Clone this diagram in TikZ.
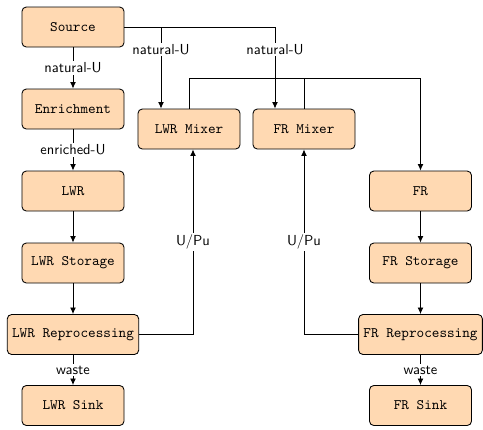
\documentclass[tikz,border=0pt]{standalone}
\usetikzlibrary{arrows.meta,calc}
\tikzset{
  box/.style={draw, fill=orange!30, rounded corners=3pt, minimum width=70.4pt, minimum height=27.6pt, font=\ttfamily},
  flow/.style={-{Latex[length=4.5pt,width=4pt]}},
  lbl/.style={fill=white, font=\sffamily, inner sep=1pt}
}
\begin{document}
\begin{tikzpicture}[x=0.69pt,y=-0.69pt,semithick]
  \useasboundingbox (0,0) rectangle (483,429);
  \def\lx{73}
  \def\rx{420.5}
  \def\bus{30}
  \node[box] (src) at (\lx,27) {Source};
  \node[box] (enr) at (\lx,109) {Enrichment};
  \node[box] (lwr) at (\lx,191) {LWR};
  \node[box] (lst) at (\lx,263) {LWR Storage};
  \node[box] (lrep) at (\lx,334.5) {LWR Reprocessing};
  \node[box] (lsink) at (\lx,405.5) {LWR Sink};
  \node[box] (lmix) at (189,129) {LWR Mixer};
  \node[box] (fmix) at (304,129) {FR Mixer};
  \node[box] (fr) at (\rx,191) {FR};
  \node[box] (fst) at (\rx,263) {FR Storage};
  \node[box] (frep) at (\rx,334.5) {FR Reprocessing};
  \node[box] (fsink) at (\rx,405.5) {FR Sink};

  \draw[flow] (src) -- node[lbl]{natural-U} (enr);
  \draw[flow] (enr) -- node[lbl]{enriched-U} (lwr);
  \foreach \a/\b in {lwr/lst, lst/lrep, fr/fst, fst/frep}
    \draw[flow] (\a) -- (\b);
  \draw[flow] (lrep) -- node[lbl]{waste} (lsink);
  \draw[flow] (frep) -- node[lbl]{waste} (fsink);

  \draw[flow] (src.east) -| node[lbl,pos=0.64]{natural-U} ($(lmix.north)+(-28,0)$);
  \draw[flow] (src.east) -| node[lbl,pos=0.64]{natural-U} ($(fmix.north)+(-29,0)$);
  \draw[flow] (lmix.north) -- ++(0,-\bus) -| (fr.north);
  \draw (fmix.north) -- ++(0,-\bus);
  \draw[flow] (lrep.east) -| node[lbl,pos=0.75]{U/Pu} ($(lmix.south)+(4,0)$);
  \draw[flow] (frep.west) -| node[lbl,pos=0.75]{U/Pu} (fmix.south);
\end{tikzpicture}
\end{document}
